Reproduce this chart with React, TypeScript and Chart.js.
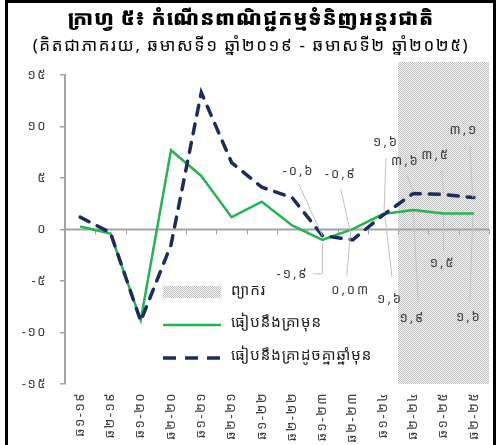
import React, { useEffect, useRef } from 'react';
import { Chart, registerables } from 'chart.js';

Chart.register(...registerables);

const title = 'ក្រាហ្វ ៥៖ កំណើនពាណិជ្ជកម្មទំនិញអន្តរជាតិ';
const subtitle = '(គិតជាភាគរយ, ឆមាសទី១ ឆ្នាំ២០១៩ - ឆមាសទី២ ឆ្នាំ២០២៥)';

const categories = [
  'ឆ១-១៩', 'ឆ២-១៩', 'ឆ១-២០', 'ឆ២-២០', 'ឆ១-២១', 'ឆ២-២១', 'ឆ១-២២',
  'ឆ២-២២', 'ឆ១-២៣', 'ឆ២-២៣', 'ឆ១-២៤', 'ឆ២-២៤', 'ឆ១-២៥', 'ឆ២-២៥',
];

// compared with previous period (green)
const qoq = [0.3, -0.4, -8.8, 7.7, 5.2, 1.2, 2.7, 0.4, -1.0, 0.03, 1.5, 1.9, 1.55, 1.55];
// compared with same period of previous year (dashed navy)
const yoy = [1.2, -0.3, -8.9, -1.5, 13.3, 6.5, 4.1, 3.1, -0.6, -1.0, 1.4, 3.5, 3.4, 3.1];

const yTickValues = [-15, -10, -5, 0, 5, 10, 15];
const yTickLabels = ['-១៥', '-១០', '-៥', '០', '៥', '១០', '១៥'];

const forecastStart = 11; // first forecast category index
const labelStart = 8; // first labelled category index
const yoyLabels = ['-០,៦', '-០,៩', '១,៦', '៣,៦', '៣,៥', '៣,១'];
const qoqLabels = ['-១,៩', '០,០៣', '១,៦', '១,៩', '១,៥', '១,៦'];

const legendForecast = 'ព្យាករ';
const legendQoq = 'ធៀបនឹងគ្រាមុន';
const legendYoy = 'ធៀបនឹងគ្រាដូចគ្នាឆ្នាំមុន';

// layout of the data labels: [text dx, text dy, leader points relative to the data point...]
const yoyLabelLayout: number[][][] = [
  [[-24, -64], [-24, -52], [0, 0]],
  [[-12, -66], [-12, -51], [-2, -6]],
  [[3, -73], [3, -57], [1, -2]],
  [[-8, -32], [-6, -18], [0, -1]],
  [[-8, -39], [-2, -24], [0, -1]],
  [[-10, -67], [-4, -51], [-1, 0]],
];
const qoqLabelLayout: number[][][] = [
  [[-30, 34], [0, 3], [0, 34], [-9, 34]],
  [[-2, 61], [-2, 2], [-6, 47]],
  [[7, 85], [2, 3], [9, 63]],
  [[-1, 108], [0, 2], [5, 93]],
  [[-1, 50], [0, 2], [0, 37]],
  [[-5, 104], [-1, 2], [-4, 89]],
];

const KH = "'Noto Sans Khmer','Noto Serif Khmer','Khmer OS','Khmer OS System','Hanuman','DejaVu Sans',sans-serif";
const GREEN = '#27b34f';
const NAVY = '#1c2c5c';
const AXIS = '#a3a3a3';
const TEXT = '#3c3c3c';

function makePattern(ctx: CanvasRenderingContext2D) {
  const c = document.createElement('canvas');
  c.width = 2;
  c.height = 2;
  const p = c.getContext('2d')!;
  p.fillStyle = '#f5f5f5';
  p.fillRect(0, 0, 2, 2);
  p.fillStyle = '#c0c0c0';
  p.fillRect(0, 0, 1, 1);
  p.fillRect(1, 1, 1, 1);
  return ctx.createPattern(c, 'repeat')!;
}

const overlay = {
  id: 'overlay',
  beforeInit(chart: any) {
    (chart.ctx as any).letterSpacing = '1.5px';
  },
  beforeDraw(chart: any) {
    (chart.ctx as any).letterSpacing = '1.5px';
  },
  beforeDatasetsDraw(chart: any) {
    const { ctx, chartArea, scales } = chart;
    const y = scales.y;
    const n = categories.length;
    const step = (chartArea.right - chartArea.left) / n;
    ctx.save();
    // forecast shading
    const x0 = chartArea.left + forecastStart * step;
    ctx.fillStyle = makePattern(ctx);
    ctx.fillRect(x0, chartArea.top - 13, chartArea.right - x0, chartArea.bottom - chartArea.top + 13);
    // zero axis
    const y0 = y.getPixelForValue(0);
    ctx.strokeStyle = AXIS;
    ctx.lineWidth = 2;
    ctx.beginPath();
    ctx.moveTo(chartArea.left, y0);
    ctx.lineTo(chartArea.right, y0);
    ctx.stroke();
    ctx.lineWidth = 1;
    for (let i = 1; i <= n; i++) {
      const bx = Math.round(chartArea.left + i * step) + 0.5;
      ctx.beginPath();
      ctx.moveTo(bx, y0);
      ctx.lineTo(bx, y0 + 5);
      ctx.stroke();
    }
    // legend
    const lx = 163;
    ctx.fillStyle = makePattern(ctx);
    ctx.fillRect(lx, 286, 58, 12);
    ctx.lineCap = 'butt';
    ctx.strokeStyle = GREEN;
    ctx.lineWidth = 2.5;
    ctx.beginPath();
    ctx.moveTo(lx, 325);
    ctx.lineTo(lx + 58, 325);
    ctx.stroke();
    ctx.strokeStyle = NAVY;
    ctx.lineWidth = 3.5;
    ctx.setLineDash([13, 9]);
    ctx.beginPath();
    ctx.moveTo(lx, 358);
    ctx.lineTo(lx + 58, 358);
    ctx.stroke();
    ctx.setLineDash([]);
    ctx.fillStyle = '#222';
    ctx.font = `15px ${KH}`;
    ctx.letterSpacing = '1px';
    ctx.textAlign = 'left';
    ctx.textBaseline = 'middle';
    ctx.fillText(legendForecast, 231, 291);
    ctx.fillText(legendQoq, 231, 323);
    ctx.fillText(legendYoy, 231, 356);
    ctx.restore();
  },
  afterDatasetsDraw(chart: any) {
    const { ctx, scales } = chart;
    const x = scales.x;
    const y = scales.y;
    ctx.save();
    ctx.font = `13px ${KH}`;
    ctx.letterSpacing = '2px';
    ctx.textAlign = 'center';
    ctx.textBaseline = 'middle';
    const draw = (labels: string[], values: number[], layout: number[][][]) => {
      labels.forEach((t, k) => {
        const idx = labelStart + k;
        const px = x.getPixelForValue(idx);
        const py = y.getPixelForValue(values[idx]);
        const lay = layout[k];
        ctx.strokeStyle = '#c2c2c2';
        ctx.lineWidth = 1;
        ctx.beginPath();
        for (let j = 1; j < lay.length; j++) {
          const qx = px + lay[j][0];
          const qy = py + lay[j][1];
          if (j === 1) ctx.moveTo(qx, qy);
          else ctx.lineTo(qx, qy);
        }
        ctx.stroke();
        ctx.fillStyle = TEXT;
        ctx.fillText(t, px + lay[0][0], py + lay[0][1]);
      });
    };
    draw(yoyLabels, yoy, yoyLabelLayout);
    draw(qoqLabels, qoq, qoqLabelLayout);
    ctx.restore();
  },
};

export default function App() {
  const ref = useRef<HTMLCanvasElement>(null);
  useEffect(() => {
    const chart = new Chart(ref.current!, {
      type: 'line',
      data: {
        labels: categories,
        datasets: [
          {
            label: legendYoy,
            data: yoy,
            borderColor: NAVY,
            borderWidth: 3.5,
            borderDash: [10, 9],
            borderCapStyle: 'round',
            pointRadius: 0,
            tension: 0,
            order: 0,
          },
          {
            label: legendQoq,
            data: qoq,
            borderColor: GREEN,
            borderWidth: 2.5,
            pointRadius: 0,
            tension: 0,
            order: 1,
          },
        ],
      },
      options: {
        responsive: false,
        animation: false,
        devicePixelRatio: 1,
        layout: { padding: { left: 0, right: 13, top: 75, bottom: 0 } },
        plugins: { legend: { display: false }, tooltip: { enabled: false }, title: { display: false } },
        scales: {
          x: {
            offset: true,
            grid: { display: false, drawTicks: false, offset: true },
            border: { display: false },
            ticks: {
              maxRotation: 90,
              minRotation: 90,
              padding: 8,
              color: TEXT,
              font: { family: KH, size: 13 },
            },
            afterFit: (s: any) => {
              s.height = 61;
            },
          },
          y: {
            min: -15,
            max: 15,
            afterBuildTicks: (s: any) => {
              s.ticks = yTickValues.map((v) => ({ value: v }));
            },
            grid: { display: true, drawOnChartArea: false, drawTicks: true, tickLength: 5, color: AXIS, lineWidth: 1.5 },
            border: { display: true, color: AXIS, width: 2 },
            ticks: {
              padding: 13,
              color: TEXT,
              font: { family: KH, size: 13 },
              callback: (v: any) => yTickLabels[yTickValues.indexOf(Number(v))],
            },
            afterFit: (s: any) => {
              s.width = 65;
            },
          },
        },
      },
      plugins: [overlay],
    } as any);
    return () => chart.destroy();
  }, []);

  return (
    <div style={{ position: 'fixed', left: 0, top: 0, width: 502, height: 445, background: '#fff', overflow: 'hidden' }}>
      <canvas ref={ref} width={502} height={445} style={{ position: 'absolute', left: 0, top: 0 }} />
      <div
        style={{
          position: 'absolute',
          left: 5,
          top: 0,
          width: 485,
          height: 470,
          border: '3px solid #000',
          pointerEvents: 'none',
        }}
      />
      <div
        style={{
          position: 'absolute',
          left: 0,
          width: 502,
          top: 3,
          textAlign: 'center',
          fontFamily: KH,
          fontWeight: 900,
          fontSize: 20,
          letterSpacing: 0.8,
          lineHeight: '30px',
          color: '#000',
        }}
      >
        {title}
      </div>
      <div
        style={{
          position: 'absolute',
          left: 0,
          width: 502,
          top: 33,
          textAlign: 'center',
          fontFamily: KH,
          fontSize: 17,
          letterSpacing: 1.6,
          lineHeight: '24px',
          color: '#000',
        }}
      >
        {subtitle}
      </div>
    </div>
  );
}
